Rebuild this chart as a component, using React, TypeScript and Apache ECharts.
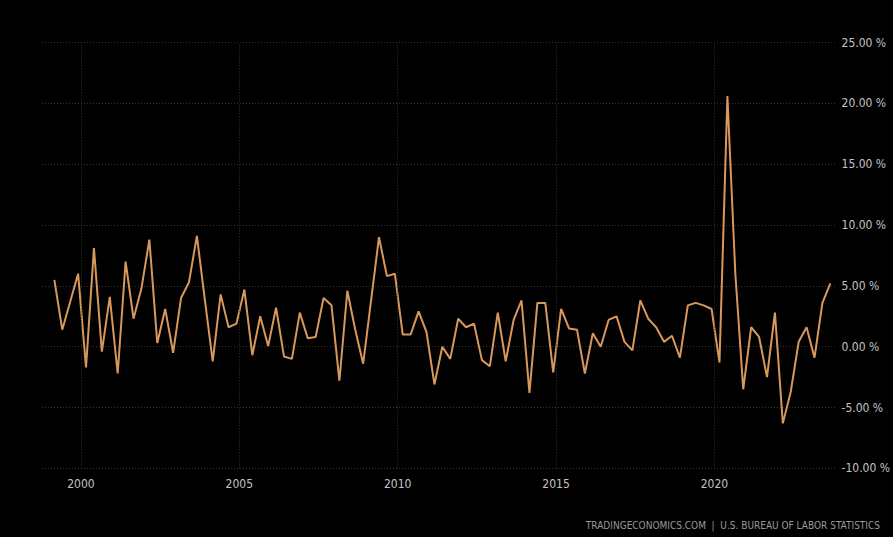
import React, { useEffect, useRef } from "react";
import * as echarts from "echarts";

const startYear = 1999;
const values: number[] = [
  5.5, 1.4, 3.7, 6.0, -1.7, 8.1, -0.4, 4.1, -2.2, 7.0, 2.3, 4.8,
  8.8, 0.3, 3.1, -0.5, 4.0, 5.3, 9.1, 3.9, -1.2, 4.3, 1.6, 1.9,
  4.7, -0.7, 2.5, 0.05, 3.2, -0.8, -1.0, 2.8, 0.7, 0.8, 4.0, 3.4,
  -2.8, 4.6, 1.4, -1.4, 3.8, 9.0, 5.8, 6.0, 1.0, 1.0, 2.9, 1.2,
  -3.1, 0.0, -1.0, 2.3, 1.6, 1.9, -1.1, -1.6, 2.8, -1.2, 2.2, 3.8,
  -3.8, 3.6, 3.6, -2.1, 3.1, 1.5, 1.4, -2.2, 1.1, 0.0, 2.2, 2.5,
  0.4, -0.3, 3.8, 2.3, 1.6, 0.4, 0.9, -0.9, 3.4, 3.6, 3.4, 3.1,
  -1.3, 20.6, 6.0, -3.5, 1.6, 0.8, -2.5, 2.8, -6.3, -3.7, 0.4, 1.6,
  -0.9, 3.6, 5.2,
];
const yearTicks = [2000, 2005, 2010, 2015, 2020];
const yMin = -10;
const yMax = 25;
const yStep = 5;
const source = "TRADINGECONOMICS.COM  |  U.S. BUREAU OF LABOR STATISTICS";

const font = "'DejaVu Sans Condensed', 'Liberation Sans Narrow', 'Roboto Condensed', sans-serif";

export default function App() {
  const ref = useRef<HTMLDivElement>(null);
  useEffect(() => {
    if (!ref.current) return;
    const chart = echarts.init(ref.current, undefined, { renderer: "svg" });
    const data = values.map((v, i) => [startYear + 0.16 + i * 0.25, v]);
    chart.setOption({
      animation: false,
      backgroundColor: "#000000",
      grid: { left: 42, right: 55, top: 42.5, bottom: 68.6 },
      xAxis: {
        type: "value",
        min: 1998.77,
        max: 2023.855,
        axisLine: { show: false },
        axisTick: { show: false },
        splitLine: { show: false },
        axisLabel: {
          customValues: yearTicks,
          color: "#c4c4c4",
          fontFamily: font,
          fontSize: 12,
          margin: 10,
          formatter: (v: number) => String(Math.round(v)),
        },
      },
      yAxis: {
        type: "value",
        position: "right",
        min: yMin,
        max: yMax,
        interval: yStep,
        axisLine: { show: false },
        axisTick: { show: false },
        axisLabel: {
          color: "#c4c4c4",
          fontFamily: font,
          fontSize: 12,
          margin: 5,
          formatter: (v: number) => v.toFixed(2) + " %",
        },
        splitLine: { lineStyle: { color: "#363636", type: [1, 2], width: 1 } },
      },
      series: [
        {
          type: "line",
          data,
          symbol: "none",
          lineStyle: { color: "#d8985c", width: 2 },
          markLine: {
            silent: true,
            symbol: "none",
            label: { show: false },
            lineStyle: { color: "#363636", type: [1, 2], width: 1 },
            data: yearTicks.map((y) => ({ xAxis: y })),
          },
        },
      ],
      graphic: [
        {
          type: "text",
          right: 13,
          top: 520,
          style: {
            text: source,
            fill: "#9a9a9a",
            font: `10px ${font}`,
          },
        },
      ],
    });
    return () => chart.dispose();
  }, []);
  return (
    <div
      ref={ref}
      style={{ position: "fixed", left: 0, top: 0, width: 893, height: 537, background: "#000" }}
    />
  );
}
